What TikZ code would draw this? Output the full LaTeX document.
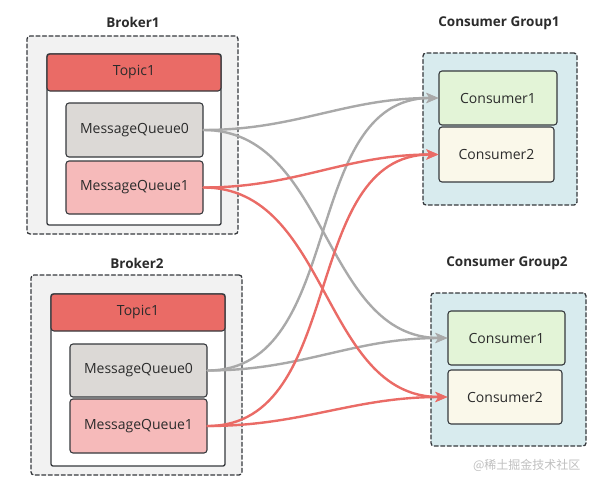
\documentclass[tikz,border=0pt]{standalone}
\usepackage{fontspec}
\setmainfont{Open Sans}
\newfontfamily\cjk{Noto Sans CJK SC}
\usetikzlibrary{arrows.meta}
\definecolor{txtdark}{HTML}{2B2B2B}
\definecolor{edgedark}{HTML}{36393D}
\definecolor{brokerbg}{HTML}{F2F2F2}
\definecolor{groupbg}{HTML}{D8EBEE}
\definecolor{topicred}{HTML}{EA6B66}
\definecolor{queuegray}{HTML}{DCD9D6}
\definecolor{queuepink}{HTML}{F6BABA}
\definecolor{consgreen}{HTML}{E3F4D7}
\definecolor{conscream}{HTML}{FAF8EA}
\definecolor{linkgray}{HTML}{A9A9A9}
\definecolor{linkred}{HTML}{EA6B66}
\begin{document}
\begin{tikzpicture}[x=1pt,y=-1pt,line cap=round,line join=round,
	font=\fontsize{14}{16}\selectfont,text=txtdark,
	outerbox/.style={draw=edgedark,line width=1.3pt,dash pattern=on 4pt off 2.5pt,rounded corners=3,inner sep=0pt},
	title/.style={font=\fontsize{13.5}{15}\selectfont\bfseries},
	framebox/.style={draw=edgedark,fill=white,line width=1.3pt,rounded corners=2,inner sep=0pt,minimum width=174pt},
	cell/.style={draw=edgedark,line width=1.1pt,rounded corners=3,inner sep=0pt},
	link/.style={line width=2.4pt,-{Stealth[length=12pt,width=10pt,inset=3pt]}}]
	\useasboundingbox (0,0) rectangle (599,487);
	% broker 1
	\node[outerbox,fill=brokerbg,minimum width=211pt,minimum height=198pt] (b1) at (132.5,135) {};
	\node[title] (b1t) at (133,22) {Broker1};
	\node[framebox,minimum height=171pt] (b1f) at (134,139.5) {};
	\node[cell,fill=topicred,minimum width=174pt,minimum height=37pt] (b1h) at (134,72.5) {Topic1};
	\node[cell,fill=queuegray,minimum width=137pt,minimum height=54pt] (b1q0) at (134.5,130) {MessageQueue0};
	\node[cell,fill=queuepink,minimum width=137pt,minimum height=53pt] (b1q1) at (134.5,187.5) {MessageQueue1};
	% broker 2
	\node[outerbox,fill=brokerbg,minimum width=211pt,minimum height=200pt] (b2) at (136.5,375) {};
	\node[title] (b2t) at (137,263) {Broker2};
	\node[framebox,minimum height=172pt] (b2f) at (138,380) {};
	\node[cell,fill=topicred,minimum width=174pt,minimum height=37pt] (b2h) at (138,312.5) {Topic1};
	\node[cell,fill=queuegray,minimum width=137pt,minimum height=53pt] (b2q0) at (138.5,370.5) {MessageQueue0};
	\node[cell,fill=queuepink,minimum width=137pt,minimum height=54pt] (b2q1) at (138.5,426) {MessageQueue1};
	% consumer group 1
	\node[outerbox,fill=groupbg,minimum width=154pt,minimum height=152pt] (g1) at (500,129) {};
	\node[title] (g1t) at (499,23) {Consumer Group1};
	\node[cell,fill=consgreen,minimum width=118pt,minimum height=54pt] (g1c1) at (498,98) {Consumer1};
	\node[cell,fill=conscream,minimum width=115pt,minimum height=55pt] (g1c2) at (496.5,154.5) {Consumer2};
	% consumer group 2
	\node[outerbox,fill=groupbg,minimum width=155pt,minimum height=153pt] (g2) at (508.5,369.5) {};
	\node[title] (g2t) at (507,263) {Consumer Group2};
	\node[cell,fill=consgreen,minimum width=117pt,minimum height=54pt] (g2c1) at (506.5,338) {Consumer1};
	\node[cell,fill=conscream,minimum width=114pt,minimum height=54pt] (g2c2) at (505,397) {Consumer2};
	% links
	\draw[link,linkgray] (b1q0.east) to[out=0,in=180] (g1c1.west);
	\draw[link,linkgray] (b1q0.east) to[out=0,in=180] (g2c1.west);
	\draw[link,linkgray] (b2q0.east) to[out=0,in=180] (g1c1.west);
	\draw[link,linkgray] (b2q0.east) to[out=0,in=180] (g2c1.west);
	\draw[link,linkred] (b1q1.east) to[out=0,in=180] (g1c2.west);
	\draw[link,linkred] (b1q1.east) to[out=0,in=180] (g2c2.west);
	\draw[link,linkred] (b2q1.east) to[out=0,in=180] (g1c2.west);
	\draw[link,linkred] (b2q1.east) to[out=0,in=180] (g2c2.west);
	\node[anchor=east,text=black!25,font=\cjk\fontsize{12}{14}\selectfont] (mark) at (584,465) {@稀土掘金技术社区};
\end{tikzpicture}
\end{document}
